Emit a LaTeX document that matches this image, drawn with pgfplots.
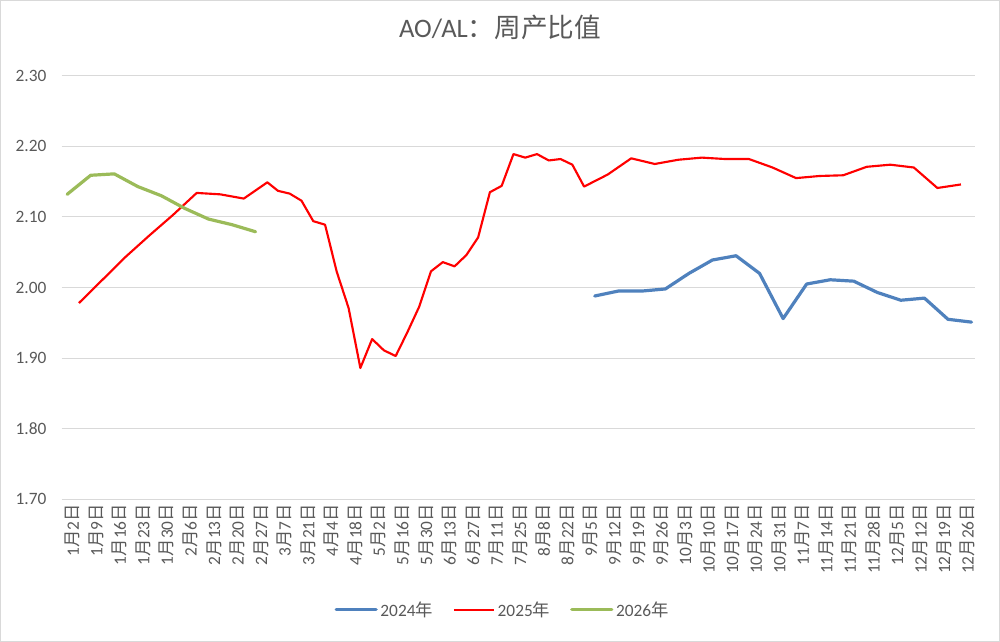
\documentclass[border=0pt]{standalone}
\usepackage{pgfplots}
\pgfplotsset{compat=1.18}
\usepackage{fontspec}
\setmainfont{Carlito}
\newfontfamily\cjk{Noto Sans CJK SC}
\definecolor{c24}{HTML}{4F81BD}
\definecolor{c25}{HTML}{FF0000}
\definecolor{c26}{HTML}{9BBB59}
\definecolor{txt}{HTML}{595959}
\definecolor{gridc}{HTML}{D9D9D9}
\newcommand\D[2]{#1{\cjk 月}#2{\cjk 日}}
\begin{document}
\begin{tikzpicture}
\useasboundingbox (0,0) rectangle (750pt,481.5pt);
\draw[gridc, line width=0.75pt] (0.5pt,0.5pt) rectangle (749.5pt,481pt);
\begin{axis}[
  at={(46.3pt,107pt)}, anchor=south west,
  scale only axis, width=685pt, height=317.7pt,
  xmin=-0.18, xmax=38.6, ymin=1.7, ymax=2.3,
  axis line style={draw=none}, tick style={draw=none}, major tick length=0pt,
  ymajorgrids, grid style={gridc, line width=0.75pt},
  ytick={1.7,1.8,1.9,2.0,2.1,2.2,2.3},
  yticklabel style={/pgf/number format/fixed, /pgf/number format/fixed zerofill, /pgf/number format/precision=2, /pgf/number format/assume math mode=true},
  yticklabel style={xshift=-8pt, font=\fontsize{13}{15}\selectfont, text=txt},
  xtick={0,...,38},
  xticklabels={\D{1}{2},\D{1}{9},\D{1}{16},\D{1}{23},\D{1}{30},\D{2}{6},\D{2}{13},\D{2}{20},\D{2}{27},\D{3}{7},\D{3}{21},\D{4}{4},\D{4}{18},\D{5}{2},\D{5}{16},\D{5}{30},\D{6}{13},\D{6}{27},\D{7}{11},\D{7}{25},\D{8}{8},\D{8}{22},\D{9}{5},\D{9}{12},\D{9}{19},\D{9}{26},\D{10}{3},\D{10}{10},\D{10}{17},\D{10}{24},\D{10}{31},\D{11}{7},\D{11}{14},\D{11}{21},\D{11}{28},\D{12}{5},\D{12}{12},\D{12}{19},\D{12}{26}},
  xticklabel style={rotate=90, anchor=east, yshift=-5pt, font=\fontsize{13}{15}\selectfont, text=txt},
  title={AO/AL{\cjk ：周产比值}},
  title style={at={(0.48,1.096)}, anchor=center, font=\fontsize{20}{24}\selectfont, text=txt},
  legend columns=3,
  legend style={at={(0.483,-0.261)}, anchor=center, draw=none, fill=none,
    font=\fontsize{13}{15}\selectfont, text=txt,
    /tikz/every even column/.append style={column sep=13pt}},
  legend image code/.code={\draw[#1] (0pt,0pt) -- (30pt,0pt);},
]
\addplot[c24, line width=2.4pt, line join=round, line cap=round] coordinates {
(22.45,1.988) (23.45,1.995) (24.45,1.995) (25.45,1.998) (26.45,2.020) (27.45,2.039)
(28.45,2.045) (29.45,2.020) (30.45,1.956) (31.45,2.005) (32.45,2.011) (33.45,2.009)
(34.45,1.993) (35.45,1.982) (36.45,1.985) (37.45,1.955) (38.45,1.951)};
\addlegendentry{2024{\cjk 年}}
\addplot[c25, line width=1.6pt, line join=round] coordinates {
(0.55,1.978) (1.55,2.011) (2.55,2.044) (3.55,2.074) (4.55,2.103) (5.55,2.134)
(6.55,2.132) (7.55,2.126) (8.55,2.149)
(9.0,2.137) (9.5,2.133) (10.0,2.123) (10.5,2.094) (11.0,2.089) (11.5,2.022)
(12.0,1.971) (12.5,1.886) (13.0,1.927) (13.5,1.911) (14.0,1.903) (14.5,1.937)
(15.0,1.973) (15.5,2.023) (16.0,2.036) (16.5,2.030) (17.0,2.046) (17.5,2.071)
(18.0,2.135) (18.5,2.144) (19.0,2.189) (19.5,2.184) (20.0,2.189) (20.5,2.180)
(21.0,2.182) (21.5,2.174) (22.0,2.143)
(23,2.160) (24,2.183) (25,2.175) (26,2.181) (27,2.184) (28,2.182) (29,2.182)
(30,2.170) (31,2.155) (32,2.158) (33,2.159) (34,2.171) (35,2.174) (36,2.170)
(37,2.141) (38,2.146)};
\addlegendentry{2025{\cjk 年}}
\addplot[c26, line width=2.4pt, line join=round, line cap=round] coordinates {
(0.05,2.132) (1.05,2.159) (2.05,2.161) (3.05,2.143) (4.05,2.130) (5.05,2.112)
(6.05,2.097) (7.05,2.089) (8.05,2.079)};
\addlegendentry{2026{\cjk 年}}
\end{axis}
\end{tikzpicture}
\end{document}
